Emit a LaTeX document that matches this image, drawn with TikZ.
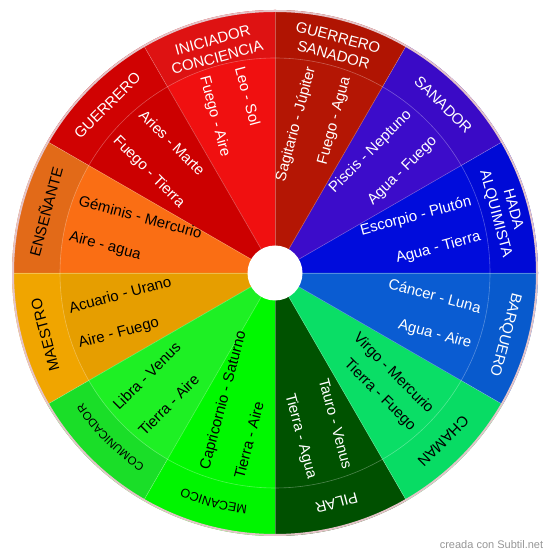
\documentclass[tikz,border=0pt]{standalone}
\usepackage{fontspec}
\setmainfont{Liberation Sans}
\usetikzlibrary{decorations.text}
\definecolor{hadaO}{RGB}{0,10,214}
\definecolor{hadaI}{RGB}{0,12,220}
\definecolor{sanaO}{RGB}{58,10,198}
\definecolor{sanaI}{RGB}{60,12,202}
\definecolor{gsanO}{RGB}{176,20,2}
\definecolor{gsanI}{RGB}{180,22,4}
\definecolor{iniO}{RGB}{222,18,18}
\definecolor{iniI}{RGB}{240,16,16}
\definecolor{gueO}{RGB}{208,2,2}
\definecolor{gueI}{RGB}{204,0,0}
\definecolor{ensO}{RGB}{226,106,24}
\definecolor{ensI}{RGB}{250,110,20}
\definecolor{maeO}{RGB}{240,165,0}
\definecolor{maeI}{RGB}{230,158,0}
\definecolor{comO}{RGB}{26,222,40}
\definecolor{comI}{RGB}{30,240,36}
\definecolor{mecO}{RGB}{0,245,0}
\definecolor{mecI}{RGB}{0,248,0}
\definecolor{pilO}{RGB}{0,80,0}
\definecolor{pilI}{RGB}{0,82,0}
\definecolor{chaO}{RGB}{8,220,100}
\definecolor{chaI}{RGB}{10,222,102}
\definecolor{barO}{RGB}{8,90,205}
\definecolor{barI}{RGB}{10,92,210}
\definecolor{rimpink}{RGB}{228,196,200}
\definecolor{markgray}{RGB}{150,150,150}
\newcommand{\drawwedge}[3]{%
  \fill[#2] (0,0) -- (#1-15:263pt) arc[start angle=#1-15, end angle=#1+15, radius=263pt] -- cycle;
  \fill[#3] (0,0) -- (#1-15:215pt) arc[start angle=#1-15, end angle=#1+15, radius=215pt] -- cycle;
}
\begin{document}
\begin{tikzpicture}[x=1pt,y=1pt,
  divider/.style={draw=white, draw opacity=0.3, line width=0.6pt},
  signtxt/.style={font=\fontsize{15}{36}\selectfont, inner sep=0pt},
  roletxt/.style={font=\fontsize{15}{18}\selectfont, inner sep=0pt, align=center},
  ]
\useasboundingbox (0,0) rectangle (550,559);
\begin{scope}[shift={(275,286)}]
  \drawwedge{15}{hadaO}{hadaI}
  \drawwedge{45}{sanaO}{sanaI}
  \drawwedge{75}{gsanO}{gsanI}
  \drawwedge{105}{iniO}{iniI}
  \drawwedge{135}{gueO}{gueI}
  \drawwedge{165}{ensO}{ensI}
  \drawwedge{195}{maeO}{maeI}
  \drawwedge{225}{comO}{comI}
  \drawwedge{255}{mecO}{mecI}
  \drawwedge{285}{pilO}{pilI}
  \drawwedge{315}{chaO}{chaI}
  \drawwedge{345}{barO}{barI}
  % dividers
  \foreach \a in {0,30,...,330}{\draw[divider] (\a:27pt) -- (\a:263pt);}
  \draw[divider] (0,0) circle[radius=215pt];
  % hole and rim
  \fill[white] (0,0) coordinate (c) circle[radius=27.5pt];
  \draw[rimpink, line width=2pt] (0,0) circle[radius=262pt];

  % sign texts (right half: read outward)
  \node[signtxt, white, rotate=15, anchor=east, align=right] (s1) at (15:208pt) {Escorpio - Plutón\\Agua - Tierra};
  \node[signtxt, white, rotate=45, anchor=east, align=right] (s2) at (45:208pt) {Piscis - Neptuno\\Agua - Fuego};
  \node[signtxt, white, rotate=75, anchor=east, align=right] (s3) at (75:208pt) {Sagitario - Júpiter\\Fuego - Agua};
  \node[signtxt, white, rotate=-75, anchor=west, align=left] (s4) at (105:208pt) {Leo - Sol\\Fuego - Aire};
  \node[signtxt, white, rotate=-45, anchor=west, align=left] (s5) at (135:208pt) {Aries - Marte\\Fuego - Tierra};
  \node[signtxt, black, rotate=-15, anchor=west, align=left] (s6) at (165:208pt) {Géminis - Mercurio\\Aire - agua};
  \node[signtxt, black, rotate=15, anchor=west, align=left] (s7) at (195:208pt) {Acuario - Urano\\Aire - Fuego};
  \node[signtxt, black, rotate=45, anchor=west, align=left] (s8) at (225:208pt) {Libra - Venus\\Tierra - Aire};
  \node[signtxt, black, rotate=75, anchor=west, align=left] (s9) at (255:208pt) {Capricornio - Saturno\\Tierra - Aire};
  \node[signtxt, white, rotate=-75, anchor=east, align=right] (s10) at (285:208pt) {Tauro - Venus\\Tierra - Agua};
  \node[signtxt, black, rotate=-45, anchor=east, align=right, font=\fontsize{15}{25}\selectfont] (s11) at (315:208pt) {Virgo - Mercurio\\Tierra - Fuego};
  \node[signtxt, white, rotate=-15, anchor=east, align=right] (s12) at (345:208pt) {Cáncer - Luna\\Agua - Aire};

  % role texts
  \node[roletxt, white, rotate=-75] (r1) at (15:237pt) {HADA\\ALQUIMISTA};
  \node[roletxt, white, rotate=-45] (r2) at (45:238pt) {SANADOR};
  \node[roletxt, white, rotate=-15] (r3) at (75:235pt) {GUERRERO\\SANADOR};
  \node[roletxt, white, rotate=15] (r4) at (105:232pt) {INICIADOR\\CONCIENCIA};
  \node[roletxt, white, rotate=45] (r5) at (135:237pt) {GUERRERO};
  \node[roletxt, black, rotate=75] (r6) at (165:238pt) {ENSEÑANTE};
  \node[roletxt, black, rotate=105] (r7) at (195:238pt) {MAESTRO};
  \path[decorate, decoration={text along path, text align=center,
      text={|\fontsize{11.5}{12}\selectfont|COMUNICADOR}}]
      (240:232pt) arc[start angle=240, end angle=210, radius=232pt];
  \path[decorate, decoration={text along path, text align=center,
      text={|\fontsize{12.5}{13}\selectfont|MECANICO}}]
      (270:234pt) arc[start angle=270, end angle=240, radius=234pt];
  \node[roletxt, white, rotate=195] (r10) at (285:238pt) {PILAR};
  \node[roletxt, black, rotate=225] (r11) at (315:238pt) {CHAMAN};
  \node[roletxt, white, rotate=255] (r12) at (345:238pt) {BARQUERO};
\end{scope}
\node[font=\fontsize{11}{12}\selectfont, text=markgray, inner sep=0pt] (mark) at (491.5,14) {creada con Subtil.net};
\end{tikzpicture}
\end{document}
